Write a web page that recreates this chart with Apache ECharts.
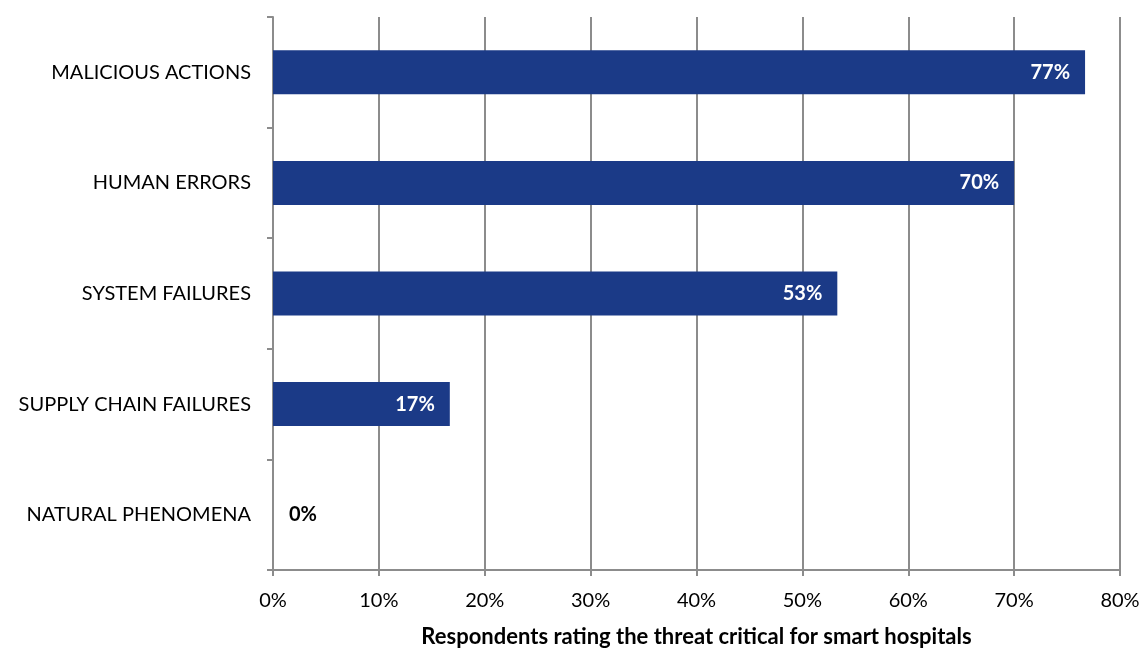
<!DOCTYPE html>
<html><head><meta charset="utf-8">
<script src="https://cdn.jsdelivr.net/npm/echarts@6/dist/echarts.min.js"></script>
<style>html,body{margin:0;padding:0;background:#fff}#c{width:1146px;height:648px}</style>
</head><body><div id="c"></div>
<script>
const categories = ["MALICIOUS ACTIONS","HUMAN ERRORS","SYSTEM FAILURES","SUPPLY CHAIN FAILURES","NATURAL PHENOMENA"];
const values = [76.7, 70, 53.3, 16.7, 0];
const xTicks = [0,10,20,30,40,50,60,70,80];
const axisTitle = "Respondents rating the threat critical for smart hospitals";

const font = "Lato, 'Open Sans', sans-serif";
const chart = echarts.init(document.getElementById('c'), null, {renderer:'canvas'});
chart.setOption({
  animation:false,
  grid:{left:273, right:26, top:17, bottom:78, containLabel:false, outerBoundsMode:'none'},
  xAxis:{
    type:'value', min:0, max:80, interval:10,
    axisLine:{show:true, lineStyle:{color:'#8c8c8c', width:2}},
    axisTick:{show:true, length:6, lineStyle:{color:'#8c8c8c', width:2}},
    splitLine:{show:true, lineStyle:{color:'#8c8c8c', width:2}},
    axisLabel:{formatter:v=>v+'%', color:'#000', fontFamily:font, fontSize:20, margin:21},
    name:axisTitle, nameLocation:'middle', nameGap:56,
    nameTextStyle:{fontFamily:font, fontWeight:'bold', fontSize:22, color:'#000'}
  },
  yAxis:{
    type:'category', data:categories, inverse:true,
    axisLine:{show:true, lineStyle:{color:'#8c8c8c', width:2}},
    axisTick:{show:true, length:6, lineStyle:{color:'#8c8c8c', width:2}},
    axisLabel:{color:'#000', fontFamily:font, fontSize:20, margin:22}
  },
  series:[{
    type:'bar', barWidth:44,
    itemStyle:{color:'#1b3a87'},
    data: values.map(v => ({
      value:v,
      label: v === 0 ? {position:'right', distance:16, color:'#000'} : {}
    })),
    label:{show:true, position:'insideRight', distance:15, color:'#fff', fontWeight:'bold',
      fontFamily:font, fontSize:20, formatter:p=>Math.round(p.value)+'%'}
  }]
});
</script></body></html>
